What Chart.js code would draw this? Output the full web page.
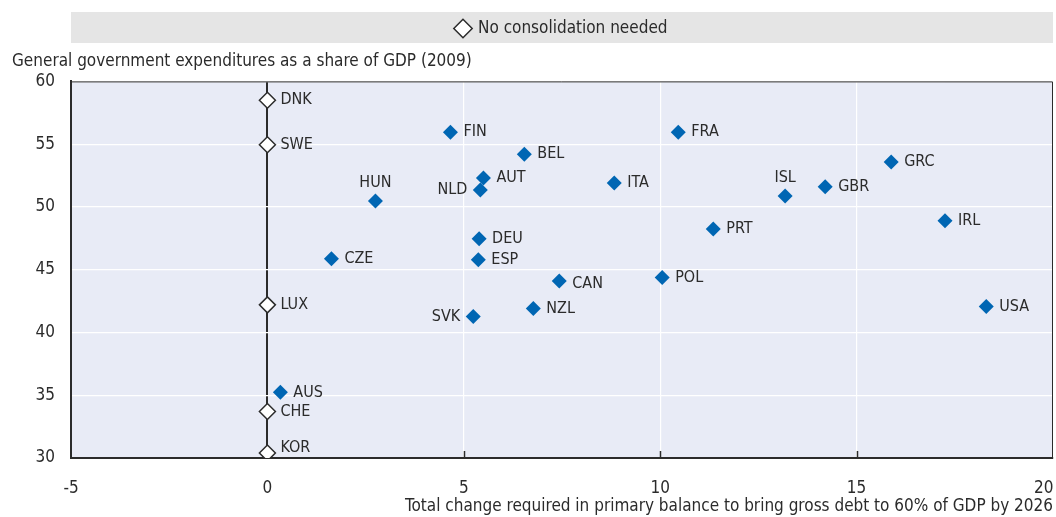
<!DOCTYPE html>
<html>
<head>
<meta charset="utf-8">
<script src="https://cdn.jsdelivr.net/npm/chart.js@4.4.1/dist/chart.umd.min.js"></script>
<style>
  html, body { margin: 0; padding: 0; background: #fff; overflow: hidden; }
  #wrap { position: relative; width: 1056px; height: 517px; }
  #chart { display: block; }
</style>
</head>
<body>
<div id="wrap"><canvas id="chart"></canvas></div>
<script>
// countries that need consolidation
const countries = ['FIN', 'BEL', 'AUT', 'NLD', 'HUN', 'DEU', 'ESP', 'CZE', 'SVK', 'NZL', 'CAN',
  'POL', 'ITA', 'FRA', 'PRT', 'ISL', 'GBR', 'GRC', 'IRL', 'USA', 'AUS'];
const balanceChange = [4.66, 6.54, 5.50, 5.42, 2.75, 5.39, 5.37, 1.63, 5.24, 6.77, 7.43,
  10.05, 8.83, 10.46, 11.35, 13.18, 14.20, 15.88, 17.25, 18.30, 0.33];
const expenditure = [55.95, 54.2, 52.3, 51.35, 50.48, 47.46, 45.8, 45.87, 41.27, 41.9, 44.1,
  44.37, 51.9, 55.95, 48.25, 50.87, 51.6, 53.57, 48.9, 42.06, 35.24];

// no consolidation needed
const noConsCountries = ['DNK', 'SWE', 'LUX', 'CHE', 'KOR'];
const noConsBalance = [0, 0, 0, 0, 0];
const noConsExpenditure = [58.5, 54.95, 42.2, 33.7, 30.4];

const xTicks = [-5, 0, 5, 10, 15, 20];
const yTicks = [30, 35, 40, 45, 50, 55, 60];

// label placement (default is right of the marker), plus small vertical nudges
const labelSide = { NLD: 'left', SVK: 'left', HUN: 'above', ISL: 'above' };
const labelNudge = { KOR: -5, CAN: 3, AUS: 1 };

const TEXT = '#2b2b2b';
const FAMILY = "'Liberation Sans Narrow', 'Arial Narrow', 'DejaVu Sans Condensed', sans-serif";
Chart.defaults.font.family = FAMILY;
Chart.defaults.font.size = 17;
Chart.defaults.color = TEXT;

const backdrop = {
  id: 'backdrop',
  beforeDraw(chart) {
    const { ctx, chartArea: a, legend } = chart;
    ctx.save();
    // grey band behind the legend, a little above its box so the text sits centred
    ctx.fillStyle = '#e5e5e5';
    ctx.fillRect(a.left, legend.top - 3, a.right - a.left, legend.bottom - legend.top - 1);
    ctx.fillStyle = '#e8ebf6';
    ctx.fillRect(a.left, a.top, a.right - a.left, a.bottom - a.top);
    ctx.restore();
  },
  beforeDatasetsDraw(chart) {
    const { ctx, chartArea: a, scales } = chart;
    ctx.save();
    ctx.strokeStyle = TEXT;
    ctx.lineWidth = 1;
    ctx.beginPath();
    ctx.moveTo(a.left, a.top + 0.5);
    ctx.lineTo(a.right - 0.5, a.top + 0.5);
    ctx.lineTo(a.right - 0.5, a.bottom);
    ctx.stroke();
    // small inner ticks on the x axis
    ctx.lineWidth = 1.5;
    xTicks.slice(1, -1).forEach(v => {
      const px = Math.round(scales.x.getPixelForValue(v)) + 0.5;
      ctx.beginPath();
      ctx.moveTo(px, a.bottom);
      ctx.lineTo(px, a.bottom - 7);
      ctx.stroke();
    });
    ctx.restore();
  }
};

const pointLabels = {
  id: 'pointLabels',
  afterDatasetsDraw(chart) {
    const { ctx } = chart;
    ctx.save();
    ctx.font = '16px ' + FAMILY;
    ctx.fillStyle = TEXT;
    ctx.textBaseline = 'middle';
    chart.data.datasets.forEach((ds, i) => {
      const meta = chart.getDatasetMeta(i);
      meta.data.forEach((pt, j) => {
        const name = ds.names[j];
        const side = labelSide[name] || 'right';
        const dy = labelNudge[name] || 0;
        if (side === 'left') {
          ctx.textAlign = 'right';
          ctx.fillText(name, pt.x - 13, pt.y + dy);
        } else if (side === 'above') {
          ctx.textAlign = 'center';
          ctx.fillText(name, pt.x, pt.y - 18 + dy);
        } else {
          ctx.textAlign = 'left';
          ctx.fillText(name, pt.x + 13, pt.y + dy);
        }
      });
    });
    ctx.restore();
  }
};

new Chart(document.getElementById('chart'), {
  type: 'scatter',
  data: {
    datasets: [
      {
        label: 'Consolidation needed',
        names: countries,
        data: countries.map((c, i) => ({ x: balanceChange[i], y: expenditure[i] })),
        pointStyle: 'rectRot',
        pointRadius: 7.5,
        backgroundColor: '#0066b3',
        borderColor: '#0066b3',
        borderWidth: 0
      },
      {
        label: 'No consolidation needed',
        names: noConsCountries,
        data: noConsCountries.map((c, i) => ({ x: noConsBalance[i], y: noConsExpenditure[i] })),
        pointStyle: 'rectRot',
        pointRadius: 8,
        backgroundColor: '#ffffff',
        borderColor: TEXT,
        borderWidth: 1.5
      }
    ]
  },
  options: {
    responsive: true,
    maintainAspectRatio: false,
    animation: false,
    layout: { autoPadding: false, padding: { top: 15, left: 12, right: 3, bottom: 0 } },
    plugins: {
      tooltip: { enabled: false },
      legend: {
        position: 'top',
        fullSize: false,
        labels: {
          usePointStyle: true,
          boxWidth: 13,
          boxHeight: 13,
          padding: 5,
          color: TEXT,
          font: { size: 17 },
          filter: item => item.datasetIndex === 1
        }
      },
      title: {
        display: true,
        text: 'General government expenditures as a share of GDP (2009)',
        align: 'start',
        weight: 500,
        color: TEXT,
        font: { size: 17, weight: 'normal' },
        padding: { top: 4, bottom: 10 }
      }
    },
    scales: {
      x: {
        type: 'linear',
        min: xTicks[0],
        max: xTicks[xTicks.length - 1],
        afterBuildTicks: s => { s.ticks = xTicks.map(v => ({ value: v })); },
        afterFit: s => { s.height = 59; s.paddingLeft = 0; s.paddingRight = 0; },
        ticks: {
          padding: 20,
          color: TEXT,
          font: { size: 17 },
          // last label sits inside the plot edge, as in the original
          callback: v => v === xTicks[xTicks.length - 1] ? v + '\u2002\u2002\u2009' : String(v)
        },
        grid: {
          drawTicks: false,
          color: c => c.tick && c.tick.value === 0 ? TEXT : '#ffffff',
          lineWidth: c => c.tick && c.tick.value === 0 ? 2 : 1.2
        },
        border: { color: TEXT, width: 2 },
        title: {
          display: true,
          align: 'end',
          text: 'Total change required in primary balance to bring gross debt to 60% of GDP by 2026',
          color: TEXT,
          font: { size: 17 },
          padding: { top: 0, bottom: 0 }
        }
      },
      y: {
        min: yTicks[0],
        max: yTicks[yTicks.length - 1],
        afterBuildTicks: s => { s.ticks = yTicks.map(v => ({ value: v })); },
        afterFit: s => { s.width = 59; },
        ticks: { padding: 16, color: TEXT, font: { size: 17 } },
        grid: { drawTicks: false, color: '#ffffff', lineWidth: 1.2 },
        border: { color: TEXT, width: 2 }
      }
    }
  },
  plugins: [backdrop, pointLabels]
});
</script>
</body>
</html>
